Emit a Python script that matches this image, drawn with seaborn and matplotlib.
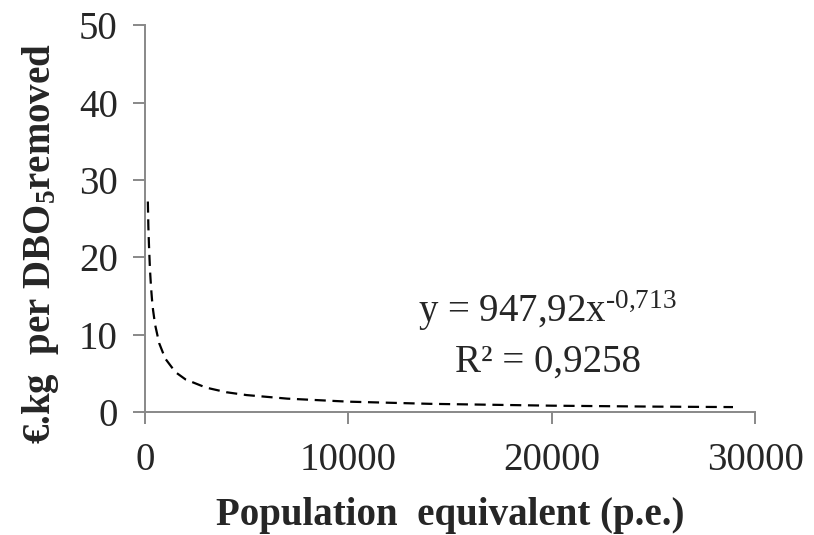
import matplotlib
matplotlib.use("Agg")
import matplotlib.pyplot as plt
import seaborn as sns
import pandas as pd

# Values
pop_equiv = [145, 170, 200, 250, 300, 350, 400, 500, 700, 1000, 1500, 2000, 3000,
             4000, 5000, 7000, 10000, 14000, 20000, 25000, 28900]
cost_per_kg = [27.2, 24.0, 21.6, 18.4, 16.2, 14.5, 13.2, 11.3, 8.9, 6.9, 5.15, 4.2, 3.15,
               2.55, 2.18, 1.72, 1.33, 1.05, 0.81, 0.69, 0.63]

x_ticks = [0, 10000, 20000, 30000]
y_ticks = [0, 10, 20, 30, 40, 50]
eq_text = r"y = 947,92x$^{\text{-0,713}}$"
r2_text = "R² = 0,9258"

sns.set_theme(style="white")
plt.rcParams["font.family"] = ["Liberation Serif", "DejaVu Serif"]
plt.rcParams["mathtext.fontset"] = "custom"
plt.rcParams["mathtext.rm"] = "Liberation Serif"
plt.rcParams["mathtext.bf"] = "Liberation Serif:bold"
plt.rcParams["mathtext.it"] = "Liberation Serif:italic"

df = pd.DataFrame({"x": pop_equiv, "y": cost_per_kg})

fig = plt.figure(figsize=(8.14, 5.35), dpi=100)
ax = fig.add_axes([0.178, 0.23, 0.75, 0.723])

sns.lineplot(data=df, x="x", y="y", ax=ax, color="black", linewidth=1.6)
ax.lines[0].set_dashes([5, 3])

ax.set_xlim(0, 30000)
ax.set_ylim(0, 50)
ax.set_xticks(x_ticks)
ax.set_yticks(y_ticks)
ax.set_xticklabels([str(v) for v in x_ticks])
ax.set_yticklabels([str(v) for v in y_ticks])

for s in ["top", "right"]:
    ax.spines[s].set_visible(False)
for s in ["left", "bottom"]:
    ax.spines[s].set_color("#888888")
    ax.spines[s].set_linewidth(1.4)

ax.tick_params(axis="both", which="major", direction="out", length=8.5, width=1.4,
               color="#888888", labelsize=28, bottom=True, left=True)
ax.tick_params(axis="y", pad=11)
ax.tick_params(axis="x", pad=13)

ax.set_xlabel("Population  equivalent (p.e.)", fontsize=28, fontweight="bold", labelpad=13)
ax.set_ylabel(r"€.kg  per DBO$_\mathbf{5}$removed", fontsize=28, fontweight="bold")
ax.yaxis.set_label_coords(-0.137, 0.435)

ax.text(19800, 11.6, eq_text, fontsize=28, ha="center", va="baseline")
ax.text(19800, 5.2, r2_text, fontsize=28, ha="center", va="baseline")

fig.savefig("out.png", dpi=100)
